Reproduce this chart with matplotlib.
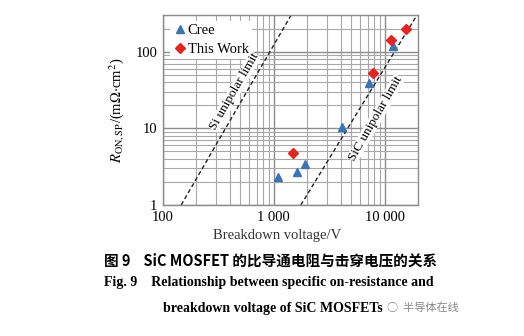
import matplotlib.pyplot as plt
from matplotlib.ticker import FixedLocator, LogLocator, NullFormatter

plt.rcParams['font.family'] = ['Liberation Serif', 'Noto Sans CJK SC']
plt.rcParams['mathtext.fontset'] = 'stix'

# Cree devices
cree_v = [1090, 1620, 1900, 4100, 7150, 11800]
cree_r = [2.3, 2.7, 3.4, 10.5, 39, 120]
# this work
work_v = [1490, 7800, 11500, 15500]
work_r = [4.8, 53, 143, 200]

# unipolar limits, R_on,sp ~ V^2.5
limit_r = [1, 300]
si_v = [146, 1430]
sic_v = [1750, 19500]

xticks = [100, 1000, 10000]
xlabels = ["100", "1 000", "10 000"]
yticks = [1, 10, 100]
ylabels = ["1", "10", "100"]

fig = plt.figure(figsize=(5.24, 3.36), dpi=100)
ax = fig.add_axes([0.311, 0.390, 0.487, 0.565])
ax.set_xscale('log')
ax.set_yscale('log')
ax.set_xlim(100, 20000)
ax.set_ylim(1, 300)

ax.xaxis.set_minor_locator(LogLocator(base=10, subs=range(2, 10)))
ax.yaxis.set_minor_locator(LogLocator(base=10, subs=range(2, 10)))
ax.xaxis.set_minor_formatter(NullFormatter())
ax.yaxis.set_minor_formatter(NullFormatter())
ax.xaxis.set_major_locator(FixedLocator(xticks))
ax.yaxis.set_major_locator(FixedLocator(yticks))
ax.set_xticklabels(xlabels)
ax.set_yticklabels(ylabels)
ax.tick_params(which='both', length=0, labelsize=10.5)
ax.tick_params(axis='x', pad=4)
ax.tick_params(axis='y', pad=4)

ax.grid(which='major', color='#8c8c8c', lw=1.0)
ax.grid(which='minor', color='#a8a8a8', lw=0.8)
ax.set_axisbelow(True)
for s in ax.spines.values():
    s.set_color('#8c8c8c')
    s.set_linewidth(1.0)

ax.plot(si_v, limit_r, ls=(0, (3, 2)), color='#222222', lw=1.0)
ax.plot(sic_v, limit_r, ls=(0, (3, 2)), color='#222222', lw=1.0)

ax.plot(cree_v, cree_r, ls='none', marker='^', ms=6, color='#3a73b8', label='Cree')
ax.plot(work_v, work_r, ls='none', marker='D', ms=5, color='#e8231f', label='This Work')

box = dict(facecolor='white', edgecolor='none', pad=0.2)
ax.text(440, 30, "Si unipolar limit", rotation=60, ha='center', va='center',
        fontsize=9.5, bbox=box, zorder=6)
ax.text(8300, 13.5, "SiC unipolar limit", rotation=60, ha='center', va='center',
        fontsize=9.5, bbox=box, zorder=6)

leg = ax.legend(loc='upper left', bbox_to_anchor=(0.0, 1.01), handletextpad=0.0,
                handlelength=1.0, borderpad=0.2, labelspacing=0.45,
                fontsize=10.5, frameon=True, fancybox=False)
leg.get_frame().set_edgecolor('none')
leg.get_frame().set_alpha(1)

ax.set_ylabel(r"$R_{\mathrm{ON,SP}}$/(m$\Omega$$\cdot$cm$^2$)", fontsize=10.5, labelpad=6)
fig.text(0.529, 0.300, "Breakdown voltage/V", ha='center', va='center',
         fontsize=10.5, color='#333333')

fig.text(0.198, 0.223, "图 9    SiC MOSFET 的比导通电阻与击穿电压的关系",
         ha='left', va='center', fontsize=10.5, fontweight='bold',
         family=['Noto Sans CJK SC', 'Liberation Serif'])
fig.text(0.198, 0.158, "Fig. 9    Relationship between specific on-resistance and",
         ha='left', va='center', fontsize=10, fontweight='bold')
fig.text(0.311, 0.083, "breakdown voltage of SiC MOSFETs",
         ha='left', va='center', fontsize=10, fontweight='bold')
fig.text(0.738, 0.083, "\u25cb  半导体在线", ha='left', va='center', fontsize=8,
         color='#888888', family=['Noto Sans CJK SC', 'DejaVu Sans'])

fig.savefig('out.png', dpi=100)
